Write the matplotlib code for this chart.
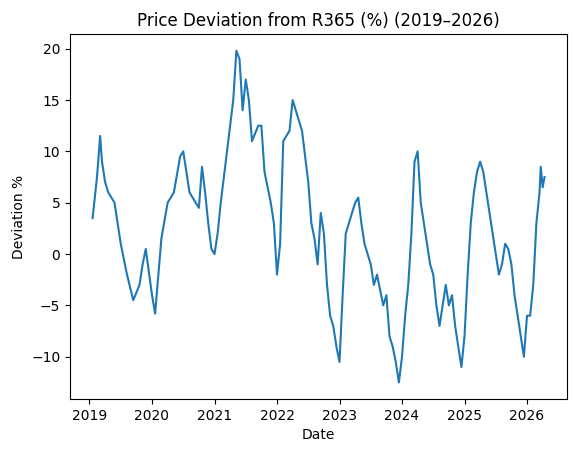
import pandas as pd
import matplotlib.pyplot as plt

# approximate readings (decimal year, deviation %)
years = [2019.05, 2019.12, 2019.17, 2019.2, 2019.25, 2019.3, 2019.4, 2019.5, 2019.6, 2019.7, 2019.8, 2019.85, 2019.9,
         2020.0, 2020.05, 2020.15, 2020.25, 2020.35, 2020.45, 2020.5, 2020.6, 2020.7, 2020.75, 2020.8, 2020.85, 2020.9, 2020.95,
         2021.0, 2021.05, 2021.1, 2021.2, 2021.3, 2021.35, 2021.4, 2021.45, 2021.5, 2021.55, 2021.6, 2021.7, 2021.75, 2021.8, 2021.9, 2021.95,
         2022.0, 2022.05, 2022.1, 2022.2, 2022.25, 2022.3, 2022.4, 2022.5, 2022.55, 2022.6, 2022.65, 2022.7, 2022.75, 2022.8, 2022.85, 2022.9, 2022.95,
         2023.0, 2023.05, 2023.1, 2023.15, 2023.25, 2023.3, 2023.35, 2023.4, 2023.5, 2023.55, 2023.6, 2023.7, 2023.75, 2023.8, 2023.85, 2023.9, 2023.95,
         2024.0, 2024.05, 2024.1, 2024.15, 2024.2, 2024.25, 2024.3, 2024.35, 2024.4, 2024.45, 2024.5, 2024.55, 2024.6, 2024.65, 2024.7, 2024.75, 2024.8, 2024.85, 2024.9, 2024.95,
         2025.0, 2025.05, 2025.1, 2025.15, 2025.2, 2025.25, 2025.3, 2025.35, 2025.45, 2025.5, 2025.55, 2025.6, 2025.65, 2025.7, 2025.75, 2025.8, 2025.85, 2025.9, 2025.95,
         2026.0, 2026.05, 2026.1, 2026.15, 2026.2, 2026.22, 2026.25, 2026.28]
deviation = [3.5, 7.5, 11.5, 9, 7, 6, 5, 1, -2, -4.5, -3, -1, 0.5,
             -4, -5.8, 1.5, 5, 6, 9.5, 10, 6, 5, 4.5, 8.5, 6, 3, 0.5,
             0, 2, 5, 10, 15, 19.8, 19, 14, 17, 15, 11, 12.5, 12.5, 8, 5, 3,
             -2, 1, 11, 12, 15, 14, 12, 7, 3, 1.5, -1, 4, 2, -3, -6, -7, -9,
             -10.5, -4, 2, 3, 5, 5.5, 3, 1, -1, -3, -2, -5, -4, -8, -9, -10.5, -12.5,
             -10, -6, -3, 2, 9, 10, 5, 3, 1, -1, -2, -5, -7, -5, -3, -5, -4, -7, -9, -11,
             -8, -2, 3, 6, 8, 9, 8, 6, 2, 0, -2, -1, 1, 0.5, -1, -4, -6, -8, -10,
             -6, -6, -3, 3, 6, 8.5, 6.5, 7.5]

dates = pd.to_datetime("2019-01-01") + pd.to_timedelta([(y - 2019) * 365.25 for y in years], unit="D")

fig, ax = plt.subplots(figsize=(5.74, 4.55), dpi=100)
ax.plot(dates, deviation, color="#1f77b4")
ax.set_title("Price Deviation from R365 (%) (2019–2026)")
ax.set_xlabel("Date")
ax.set_ylabel("Deviation %")
fig.subplots_adjust(left=0.122, right=0.988, top=0.925, bottom=0.123)
fig.savefig("out.png")
